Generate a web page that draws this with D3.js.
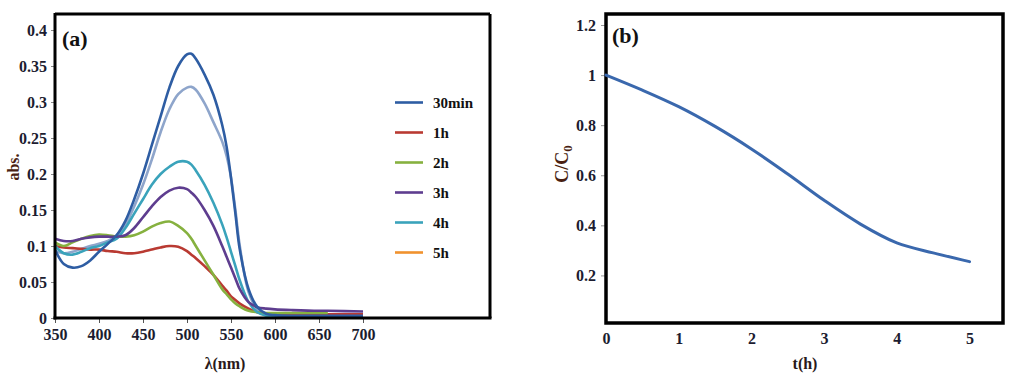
<!DOCTYPE html>
<html><head><meta charset="utf-8">
<script src="https://cdn.jsdelivr.net/npm/d3@7"></script>
<style>
body{margin:0;background:#fff;}
</style></head>
<body><svg id="c" width="1024" height="381"></svg>
<script>
// ---- Panel (a) data ----
const wavelengths = [350,360,370,380,390,400,410,420,430,440,450,460,470,480,490,500,505,510,520,530,540,545,550,555,560,570,580,590,600,620,650,660,700];
const abs30min = [0.095,0.075,0.070,0.072,0.080,0.092,0.103,0.115,0.135,0.165,0.200,0.240,0.280,0.320,0.350,0.366,0.367,0.360,0.338,0.310,0.268,0.238,0.195,0.145,0.095,0.040,0.015,0.006,0.004,0.003,0.003,0.003,0.003];
const absLight  = [0.093,0.090,0.092,0.096,0.100,0.103,0.107,0.115,0.130,0.155,0.185,0.220,0.258,0.290,0.311,0.320,0.321,0.317,0.298,0.272,0.245,0.225,0.195,0.150,0.100,0.036,0.012,0.005,0.004,0.004,0.004,0.004,0.004];
const abs1h     = [0.100,0.098,0.097,0.096,0.095,0.095,0.093,0.092,0.090,0.090,0.092,0.095,0.098,0.100,0.099,0.093,0.088,0.083,0.072,0.060,0.045,0.038,0.030,0.025,0.020,0.013,0.008,0.006,0.005,0.005,0.005,0.005,0.005];
const abs2h     = [0.105,0.100,0.105,0.110,0.114,0.116,0.115,0.113,0.113,0.115,0.120,0.127,0.132,0.134,0.128,0.118,0.110,0.100,0.080,0.060,0.040,0.033,0.026,0.020,0.016,0.010,0.008,0.007,0.007,0.007,0.007,0.007,null];
const abs3h     = [0.110,0.107,0.107,0.110,0.112,0.113,0.113,0.113,0.115,0.125,0.140,0.155,0.168,0.177,0.181,0.179,0.174,0.168,0.150,0.128,0.100,0.085,0.070,0.055,0.040,0.022,0.015,0.013,0.012,0.011,0.010,0.010,0.009];
const abs4h     = [0.100,0.090,0.088,0.092,0.097,0.100,0.105,0.110,0.125,0.145,0.165,0.185,0.200,0.210,0.217,0.217,0.213,0.205,0.185,0.160,0.130,0.112,0.092,0.072,0.052,0.022,0.008,0.003,0.002,0.002,0.002,0.002,0.002];
const abs5h     = [];
const seriesA = [
  {name:"", values:absLight, color:"#8ea5cb"},
  {name:"1h", values:abs1h, color:"#b93a32"},
  {name:"2h", values:abs2h, color:"#86b13f"},
  {name:"4h", values:abs4h, color:"#3aa3bb"},
  {name:"3h", values:abs3h, color:"#5e3d8f"},
  {name:"30min", values:abs30min, color:"#2e5da3"},
  {name:"5h", values:abs5h, color:"#f0922e"}
];
const legendOrder = ["30min","1h","2h","3h","4h","5h"];
const xTicksA = [350,400,450,500,550,600,650,700];
const yTicksA = [0,0.05,0.1,0.15,0.2,0.25,0.3,0.35,0.4];

// ---- Panel (b) data ----
const timeH = [0,0.5,1,1.5,2,2.5,3,3.5,4,4.5,5];
const cRatio = [1.0,0.94,0.874,0.795,0.705,0.605,0.50,0.405,0.33,0.29,0.255];
const xTicksB = [0,1,2,3,4,5];
const yTicksB = [0.2,0.4,0.6,0.8,1,1.2];

const FONT = "'Liberation Serif','Times New Roman','DejaVu Serif',serif";
const svg = d3.select("#c");
const tickColor = "#1c1c30", titleColor = "#4a1f12";
function txt(sel, size){ return sel.style("font-family",FONT).style("font-weight","bold").style("font-size",size+"px"); }

// ===== Panel (a) =====
const xA = d3.scaleLinear().domain([350,700]).range([55,363]);
const yA = d3.scaleLinear().domain([0,0.4]).range([318,30]);
const gA = svg.append("g");
gA.append("line").attr("x1",55).attr("x2",490).attr("y1",14).attr("y2",14).attr("stroke","#000").attr("stroke-width",3);
gA.append("line").attr("x1",490).attr("x2",490).attr("y1",14).attr("y2",318).attr("stroke","#000").attr("stroke-width",3);

const lineA = d3.line().defined(d=>d[1]!=null).x(d=>xA(d[0])).y(d=>yA(d[1])).curve(d3.curveCatmullRom.alpha(0.5));
seriesA.forEach(s=>{
  if(!s.values.length) return;
  gA.append("path").datum(wavelengths.map((w,i)=>[w,s.values[i]]))
    .attr("d",lineA).attr("fill","none").attr("stroke",s.color).attr("stroke-width",2.6).attr("stroke-linejoin","round");
});

const axYA = gA.append("g").attr("transform","translate(55,0)")
  .call(d3.axisLeft(yA).tickValues(yTicksA).tickFormat(d=>String(+d.toFixed(2))).tickSize(4).tickPadding(4));
axYA.select(".domain").remove();
axYA.selectAll(".tick line").attr("stroke","#888");
txt(axYA.selectAll("text").attr("fill",tickColor),16);
gA.append("line").attr("x1",55).attr("x2",55).attr("y1",13).attr("y2",319.5).attr("stroke","#000").attr("stroke-width",3);

const axXA = gA.append("g").attr("transform","translate(0,318)")
  .call(d3.axisBottom(xA).tickValues(xTicksA).tickFormat(d3.format("d")).tickSize(5).tickPadding(6));
axXA.select(".domain").remove();
axXA.selectAll(".tick line").attr("stroke","#555");
txt(axXA.selectAll("text").attr("fill",tickColor),16);
gA.append("line").attr("x1",53.5).attr("x2",491.5).attr("y1",318).attr("y2",318).attr("stroke","#000").attr("stroke-width",3);

txt(gA.append("text").attr("x",62).attr("y",46).attr("fill","#111").text("(a)"),22);
txt(gA.append("text").attr("transform","translate(19,167) rotate(-90)").attr("text-anchor","middle").attr("fill",titleColor).text("abs."),16);
txt(gA.append("text").attr("x",225).attr("y",369).attr("text-anchor","middle").attr("fill","#2a1a1a").text("λ(nm)"),16);

const lg = gA.append("g");
legendOrder.forEach((n,i)=>{
  const s = seriesA.find(q=>q.name===n);
  const yy = 102.5 + i*30;
  lg.append("line").attr("x1",395).attr("x2",423).attr("y1",yy).attr("y2",yy).attr("stroke",s.color).attr("stroke-width",2.6);
  txt(lg.append("text").attr("x",433).attr("y",yy+5).attr("fill","#111").text(n),15);
});

// ===== Panel (b) =====
const xB = d3.scaleLinear().domain([0,5]).range([606,969.5]);
const yB = d3.scaleLinear().domain([0,1.2]).range([325.5,25]);
const gB = svg.append("g");
const axYB = gB.append("g").attr("transform","translate(606,0)")
  .call(d3.axisLeft(yB).tickValues(yTicksB).tickFormat(d=>String(+d.toFixed(1))).tickSize(5).tickPadding(5));
axYB.select(".domain").remove();
axYB.selectAll(".tick line").attr("stroke","#999");
txt(axYB.selectAll("text").attr("fill",tickColor),16);
const axXB = gB.append("g").attr("transform","translate(0,323)")
  .call(d3.axisBottom(xB).tickValues(xTicksB).tickFormat(d3.format("d")).tickSize(0).tickPadding(10));
axXB.select(".domain").remove();
txt(axXB.selectAll("text").attr("fill",tickColor),16);
gB.append("rect").attr("x",606).attr("y",14).attr("width",397).attr("height",309).attr("fill","none").attr("stroke","#000").attr("stroke-width",3.5);

const lineB = d3.line().x((d,i)=>xB(timeH[i])).y(d=>yB(d)).curve(d3.curveCatmullRom.alpha(0.5));
gB.append("path").datum(cRatio).attr("d",lineB).attr("fill","none").attr("stroke","#3a68ad").attr("stroke-width",3).attr("stroke-linecap","round");

txt(gB.append("text").attr("x",612).attr("y",43).attr("fill","#111").text("(b)"),22);
const cl = txt(gB.append("text").attr("transform","translate(568,164) rotate(-90)").attr("text-anchor","middle").attr("fill",titleColor),18);
cl.append("tspan").text("C/C");
cl.append("tspan").attr("dy",4).style("font-size","13px").text("0");
txt(gB.append("text").attr("x",805).attr("y",369).attr("text-anchor","middle").attr("fill","#2a1a1a").text("t(h)"),16);
</script></body></html>
